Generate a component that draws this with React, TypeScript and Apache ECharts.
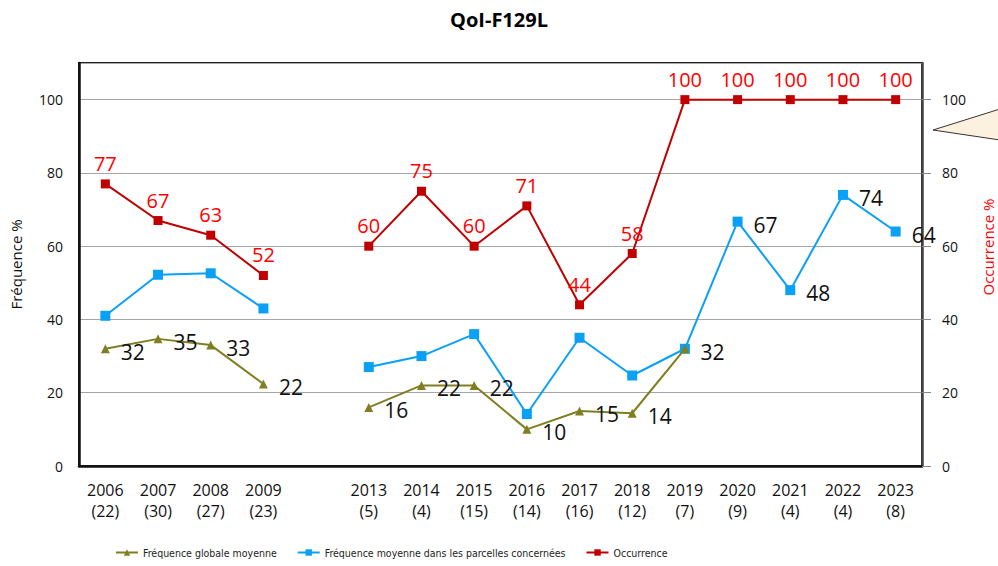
import React, { useEffect, useRef } from "react";
import * as echarts from "echarts";

const years = ["2006", "2007", "2008", "2009", "", "2013", "2014", "2015", "2016", "2017", "2018", "2019", "2020", "2021", "2022", "2023"];
const counts = ["22", "30", "27", "23", "", "5", "4", "15", "14", "16", "12", "7", "9", "4", "4", "8"];
const freqGlobale = [32, 34.7, 33, 22.4, null, 16, 22, 22, 10, 15, 14.4, 32, null, null, null, null];
const freqParcelles = [41, 52.2, 52.6, 43, null, 27, 30, 36, 14.2, 35, 24.7, 32, 66.7, 48, 74, 64];
const occurrence = [77, 67, 63, 52, null, 60, 75, 60, 71, 44, 58, 100, 100, 100, 100, 100];
const labelledParcelleYears = ["2020", "2021", "2022", "2023"];

export default function App() {
  const ref = useRef<HTMLDivElement>(null);
  useEffect(() => {
    if (!ref.current) return;
    const chart = echarts.init(ref.current, null, { renderer: "svg" });
    const cats = years.map((y, i) => (y ? `${y}\n(${counts[i]})` : ""));
    const font = "'Open Sans', 'Noto Sans', sans-serif";
    const narrow = "'Liberation Sans Narrow', 'DejaVu Sans Condensed', 'Liberation Sans', sans-serif";
    chart.setOption({
      animation: false,
      backgroundColor: "#ffffff",
      textStyle: { fontFamily: font },
      title: {
        text: "QoI-F129L",
        left: "center",
        top: 4,
        textStyle: { fontSize: 20, fontWeight: "bold", color: "#000", fontFamily: font },
      },
      grid: {
        left: 79,
        right: 76,
        top: 63,
        bottom: 100,
        show: true,
        borderColor: "#222",
        borderWidth: 2,
        backgroundColor: "transparent",
        outerBoundsMode: "none",
        containLabel: false,
      },
      legend: {
        left: 110,
        bottom: 3,
        itemGap: 20,
        itemWidth: 22,
        itemHeight: 8,
        textStyle: { fontSize: 10.5, color: "#222", fontFamily: narrow },
        data: ["Fréquence globale moyenne", "Fréquence moyenne dans les parcelles concernées", "Occurrence"],
      },
      xAxis: {
        type: "category",
        data: cats,
        boundaryGap: true,
        axisLine: { show: true, lineStyle: { color: "#111", width: 2.5 } },
        axisTick: { show: false },
        axisLabel: { interval: 0, fontSize: 16, lineHeight: 21, color: "#111", margin: 13, fontFamily: font },
      },
      yAxis: [
        {
          type: "value",
          min: 0,
          max: 110,
          interval: 20,
          name: "Fréquence %",
          nameLocation: "middle",
          nameGap: 56,
          nameTextStyle: { fontSize: 15, color: "#111", fontFamily: font },
          axisLine: { show: true, lineStyle: { color: "#111", width: 2.5 } },
          axisTick: { show: false },
          axisLabel: { fontSize: 14, color: "#111", margin: 16, showMaxLabel: false, fontFamily: font,
            formatter: (v: number) => (v > 100 ? "" : String(v)) },
          splitLine: { lineStyle: { color: "#a6a6a6", width: 1 } },
        },
        {
          type: "value",
          min: 0,
          max: 110,
          interval: 20,
          position: "right",
          axisLine: { show: true, lineStyle: { color: "#444", width: 2.5 } },
          axisTick: { show: true, inside: false, length: 9, lineStyle: { color: "#888" } },
          axisLabel: { fontSize: 14, color: "#111", margin: 20, showMaxLabel: false, fontFamily: font,
            formatter: (v: number) => (v > 100 ? "" : String(v)) },
          splitLine: { show: false },
        },
      ],
      series: [
        {
          name: "Occurrence",
          type: "line",
          yAxisIndex: 1,
          data: occurrence,
          connectNulls: false,
          symbol: "rect",
          symbolSize: 9,
          z: 3,
          itemStyle: { color: "#c00000" },
          lineStyle: { color: "#c00000", width: 2 },
          label: {
            show: true,
            position: "top",
            distance: 6,
            fontSize: 20,
            color: "#ff0000",
            fontFamily: font,
            formatter: (p: any) => String(Math.round(p.value)),
          },
        },
        {
          name: "Fréquence moyenne dans les parcelles concernées",
          type: "line",
          data: freqParcelles.map((v, i) => ({
            value: v,
            label: { show: labelledParcelleYears.includes(years[i]) },
          })),
          symbol: "rect",
          symbolSize: 10,
          z: 2,
          itemStyle: { color: "#0aa0f5" },
          lineStyle: { color: "#0aa0f5", width: 2 },
          label: {
            show: false,
            position: "right",
            distance: 11,
            offset: [0, 3],
            fontSize: 21,
            color: "#111",
            fontFamily: font,
            formatter: (p: any) => String(Math.round(p.value)),
          },
        },
        {
          name: "Fréquence globale moyenne",
          type: "line",
          data: freqGlobale,
          symbol: "triangle",
          symbolSize: 9,
          z: 4,
          itemStyle: { color: "#7f7f22" },
          lineStyle: { color: "#7f7f22", width: 2 },
          label: {
            show: true,
            position: "right",
            distance: 11,
            offset: [0, 3],
            fontSize: 21,
            color: "#111",
            fontFamily: font,
            formatter: (p: any) => String(Math.round(p.value)),
          },
        },
      ],
      graphic: [
        {
          type: "polygon",
          shape: { points: [[933, 130], [1000, 109], [1000, 140]] },
          style: { fill: "#fcf0de", stroke: "#333", lineWidth: 1 },
        },
        {
          type: "text",
          x: 988,
          y: 247,
          rotation: Math.PI / 2,
          style: {
            text: "Occurrence %",
            fill: "#ff0000",
            fontSize: 15,
            fontFamily: font,
            textAlign: "center",
            textVerticalAlign: "middle",
          },
        },
      ],
    });
    return () => chart.dispose();
  }, []);
  return <div ref={ref} style={{ width: 998, height: 566, position: "absolute", left: 0, top: 0 }} />;
}
